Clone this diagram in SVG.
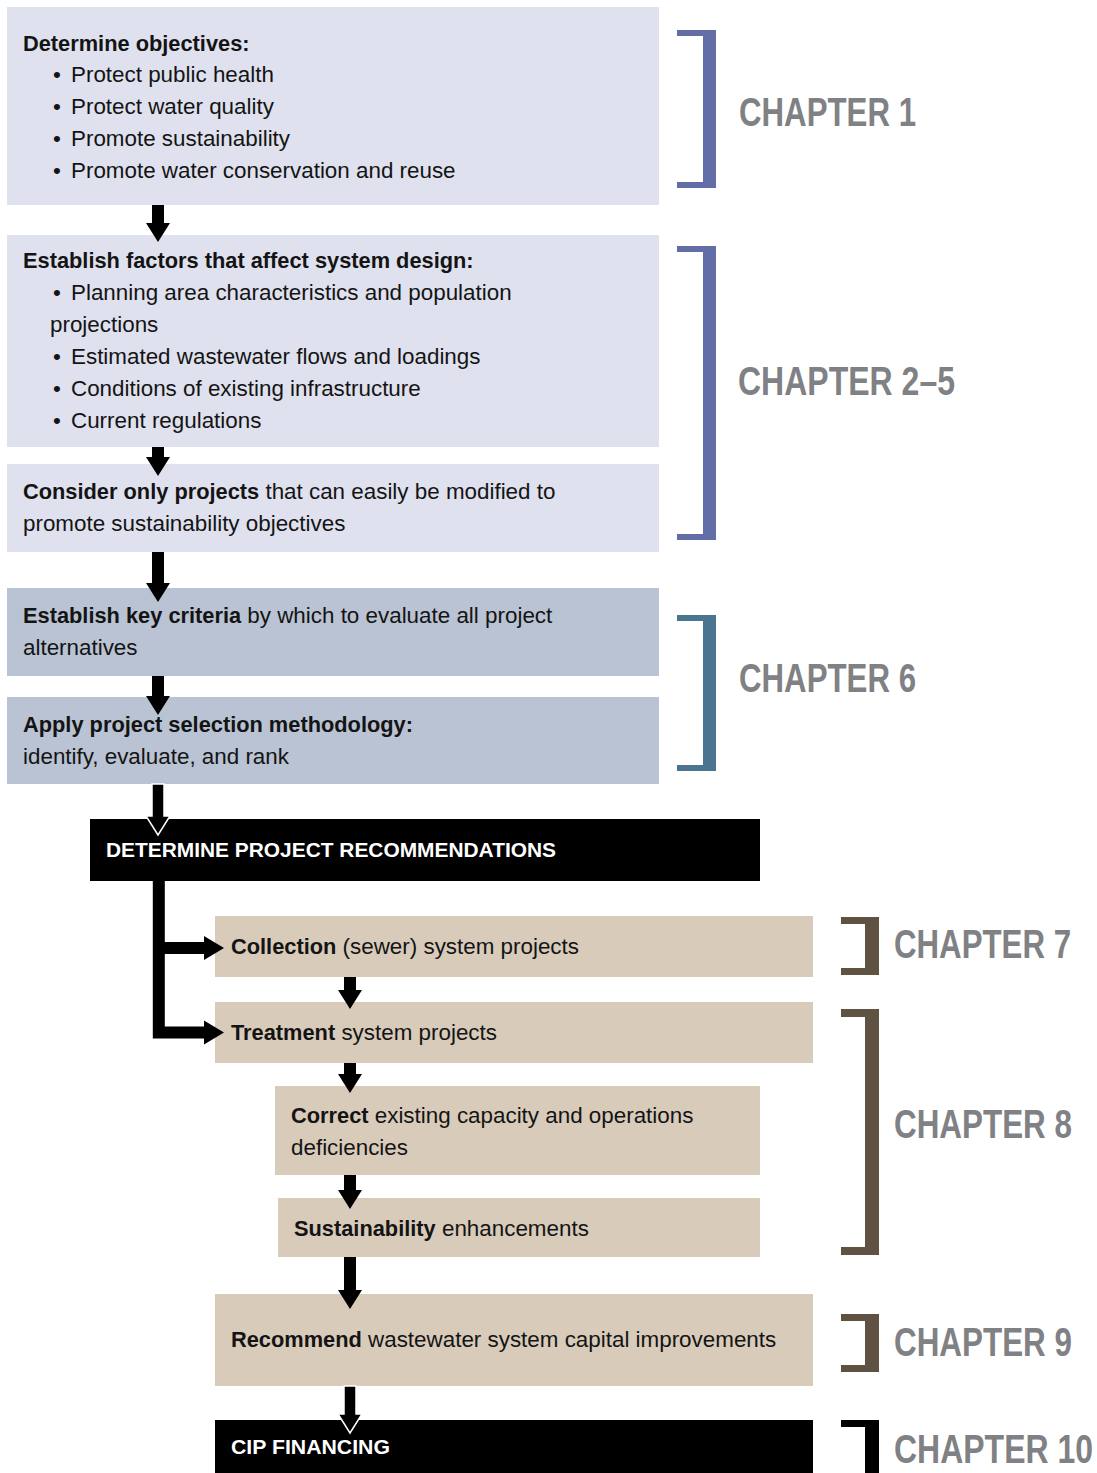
<svg xmlns="http://www.w3.org/2000/svg" width="1097" height="1473" viewBox="0 0 1097 1473">
<style>
text{font-family:"Liberation Sans",Arial,sans-serif;font-size:22.4px;fill:#141414}
.b{font-weight:bold;font-size:21.8px}
.w{fill:#fff;font-weight:bold;font-size:21px}
.ch{font-weight:bold;font-size:31px;fill:#7f8184}
.lav{fill:#dfe1ee}
.blu{fill:#b9c3d3}
.tan{fill:#d8cbba}
.blk{fill:#000}
.arr{fill:#000}
.arrw{fill:#000;stroke:#fff;stroke-width:1.5;stroke-linejoin:miter}
</style>
<rect width="1097" height="1473" fill="#fff"/>

<g id="objectives">
<rect class="lav" x="7" y="7" width="652" height="198"/>
<text class="b" x="23" y="51">Determine objectives:</text>
<text y="82"><tspan x="53">•</tspan><tspan x="71">Protect public health</tspan></text>
<text y="114"><tspan x="53">•</tspan><tspan x="71">Protect water quality</tspan></text>
<text y="146"><tspan x="53">•</tspan><tspan x="71">Promote sustainability</tspan></text>
<text y="178"><tspan x="53">•</tspan><tspan x="71">Promote water conservation and reuse</tspan></text>
</g>

<g id="factors">
<rect class="lav" x="7" y="235" width="652" height="212"/>
<text class="b" x="23" y="268">Establish factors that affect system design:</text>
<text y="300"><tspan x="53">•</tspan><tspan x="71">Planning area characteristics and population</tspan></text>
<text x="50" y="332">projections</text>
<text y="364"><tspan x="53">•</tspan><tspan x="71">Estimated wastewater flows and loadings</tspan></text>
<text y="396"><tspan x="53">•</tspan><tspan x="71">Conditions of existing infrastructure</tspan></text>
<text y="428"><tspan x="53">•</tspan><tspan x="71">Current regulations</tspan></text>
</g>

<g id="consider">
<rect class="lav" x="7" y="464" width="652" height="88"/>
<text x="23" y="499"><tspan class="b">Consider only projects</tspan> that can easily be modified to</text>
<text x="23" y="531">promote sustainability objectives</text>
</g>

<g id="criteria">
<rect class="blu" x="7" y="588" width="652" height="88"/>
<text x="23" y="623"><tspan class="b">Establish key criteria</tspan> by which to evaluate all project</text>
<text x="23" y="655">alternatives</text>
</g>

<g id="methodology">
<rect class="blu" x="7" y="697" width="652" height="87"/>
<text class="b" x="23" y="732">Apply project selection methodology:</text>
<text x="23" y="764">identify, evaluate, and rank</text>
</g>

<g id="recommendations">
<rect class="blk" x="90" y="819" width="670" height="62"/>
<text class="w" x="106" y="857" textLength="450" lengthAdjust="spacingAndGlyphs">DETERMINE PROJECT RECOMMENDATIONS</text>
</g>

<g id="collection">
<rect class="tan" x="215" y="916" width="598" height="61"/>
<text x="231" y="954"><tspan class="b">Collection</tspan> (sewer) system projects</text>
</g>

<g id="treatment">
<rect class="tan" x="215" y="1002" width="598" height="61"/>
<text x="231" y="1040"><tspan class="b">Treatment</tspan> system projects</text>
</g>

<g id="correct">
<rect class="tan" x="275" y="1086" width="485" height="89"/>
<text x="291" y="1123"><tspan class="b">Correct</tspan> existing capacity and operations</text>
<text x="291" y="1155">deficiencies</text>
</g>

<g id="sustainability">
<rect class="tan" x="278" y="1198" width="482" height="59"/>
<text x="294" y="1236"><tspan class="b">Sustainability</tspan> enhancements</text>
</g>

<g id="recommend">
<rect class="tan" x="215" y="1294" width="598" height="92"/>
<text x="231" y="1347"><tspan class="b">Recommend</tspan> wastewater system capital improvements</text>
</g>

<g id="financing">
<rect class="blk" x="215" y="1420" width="598" height="60"/>
<text class="w" x="231" y="1454" textLength="159" lengthAdjust="spacingAndGlyphs">CIP FINANCING</text>
</g>

<g id="connectors">
<path class="arr" d="M152 205H164V223H170L158 242L146 223H152Z"/>
<path class="arr" d="M152 447H164V457H170L158 476L146 457H152Z"/>
<path class="arr" d="M152 552H164V583H170L158 602L146 583H152Z"/>
<path class="arr" d="M152 676H164V696H170L158 715L146 696H152Z"/>
<path class="arrw" d="M152 784H164V816H170L158 835L146 816H152Z"/>
<path class="arr" d="M152.8 881H164.8V942H204V936L224 948L204 960V954H164.8V1026.5H204V1020.5L224 1032.5L204 1044.5V1038.5H152.8Z"/>
<path class="arr" d="M344 977H356V990H362L350 1009L338 990H344Z"/>
<path class="arr" d="M344 1063H356V1074H362L350 1093L338 1074H344Z"/>
<path class="arr" d="M344 1175H356V1190H362L350 1209L338 1190H344Z"/>
<path class="arr" d="M344 1257H356V1290H362L350 1309L338 1290H344Z"/>
<path class="arrw" d="M344 1386H356V1414H362L350 1433L338 1414H344Z"/>
</g>

<g id="chapter1">
<path fill="#646ea6" d="M677 30H716V188H677V182H703V36H677Z"/>
<text class="ch" transform="translate(739 126) scale(1 1.29)" textLength="177" lengthAdjust="spacingAndGlyphs">CHAPTER 1</text>
</g>
<g id="chapter2-5">
<path fill="#646ea6" d="M677 246H716V540H677V534H703V252H677Z"/>
<text class="ch" transform="translate(738 395) scale(1 1.29)" textLength="217" lengthAdjust="spacingAndGlyphs">CHAPTER 2–5</text>
</g>
<g id="chapter6">
<path fill="#4a7590" d="M677 615H716V771H677V765H703V621H677Z"/>
<text class="ch" transform="translate(739 692) scale(1 1.29)" textLength="177" lengthAdjust="spacingAndGlyphs">CHAPTER 6</text>
</g>
<g id="chapter7">
<path fill="#5f5242" d="M841 917H879V975H841V968H865V924H841Z"/>
<text class="ch" transform="translate(894 958) scale(1 1.29)" textLength="177" lengthAdjust="spacingAndGlyphs">CHAPTER 7</text>
</g>
<g id="chapter8">
<path fill="#5f5242" d="M841 1009H879V1255H841V1247H865V1017H841Z"/>
<text class="ch" transform="translate(894 1138) scale(1 1.29)" textLength="178" lengthAdjust="spacingAndGlyphs">CHAPTER 8</text>
</g>
<g id="chapter9">
<path fill="#5f5242" d="M841 1314H879V1372H841V1365H865V1321H841Z"/>
<text class="ch" transform="translate(894 1356) scale(1 1.29)" textLength="178" lengthAdjust="spacingAndGlyphs">CHAPTER 9</text>
</g>
<g id="chapter10">
<path fill="#000" d="M841 1420H879V1480H865V1427H841Z"/>
<text class="ch" transform="translate(894 1463) scale(1 1.29)" textLength="199" lengthAdjust="spacingAndGlyphs">CHAPTER 10</text>
</g>
</svg>
